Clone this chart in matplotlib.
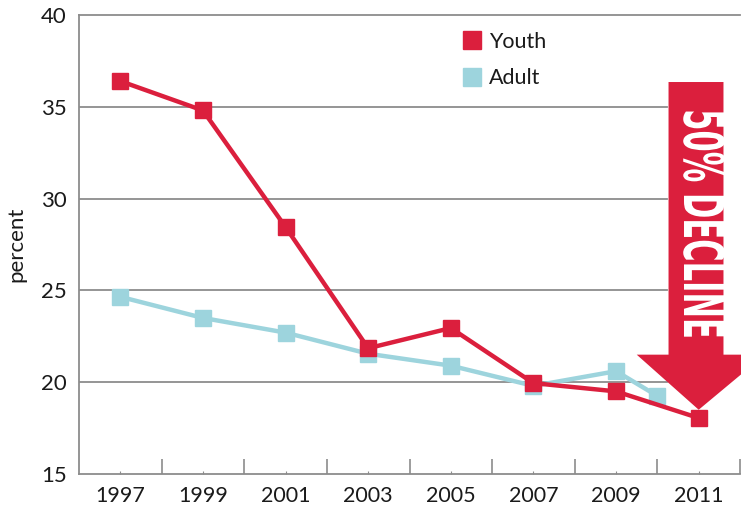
import matplotlib
matplotlib.use("Agg")
import matplotlib.pyplot as plt
from matplotlib.lines import Line2D
from matplotlib.patches import Polygon
from matplotlib.patheffects import AbstractPathEffect
from matplotlib.transforms import Affine2D

years = [1997, 1999, 2001, 2003, 2005, 2007, 2009, 2011]
youth = [36.4, 34.8, 28.45, 21.85, 22.95, 19.95, 19.5, 18.05]
adult_years = [1997, 1999, 2001, 2003, 2005, 2007, 2009, 2010]
adult = [24.65, 23.5, 22.7, 21.55, 20.9, 19.8, 20.6, 19.25]
yticks = [15, 20, 25, 30, 35, 40]
xtick_labels = [str(y) for y in years]

RED = "#db1f3d"
BLUE = "#9dd4dd"
GRAY = "#8c8c8c"
TXT = "#1a1a1a"

plt.rcParams['font.family'] = ['Lato', 'DejaVu Sans']

W, H = 741, 505
fig = plt.figure(figsize=(W / 100, H / 100), dpi=100)
ax = fig.add_axes([79 / W, 1 - 474 / H, (740 - 79) / W, (474 - 15) / H])

ax.set_xlim(1996, 2012)
ax.set_ylim(15, 40)

for y in [20, 25, 30, 35]:
    ax.axhline(y, xmin=0, xmax=0.889, color=GRAY, lw=1.3, zorder=1)

for s in ['right']:
    ax.spines[s].set_visible(False)
for s in ['left', 'bottom', 'top']:
    ax.spines[s].set_color(GRAY)
    ax.spines[s].set_linewidth(1.3)

ax.set_xticks(years)
ax.set_xticklabels(xtick_labels)
ax.set_xticks(list(range(1998, 2013, 2)), minor=True)
ax.tick_params(axis='x', which='major', direction='in', length=2, color=GRAY,
               labelsize=15.5, labelcolor=TXT, pad=9)
ax.tick_params(axis='x', which='minor', direction='in', length=11, color=GRAY, width=1.2)
ax.set_yticks(yticks)
ax.tick_params(axis='y', which='both', length=0, labelsize=16, labelcolor=TXT, pad=9)
ax.set_ylabel("percent", fontsize=16, color=TXT, labelpad=10)

# arrow annotation
arrow = Polygon([(2010.27, 36.35), (2011.6, 36.35), (2011.6, 21.5), (2012.6, 21.5),
                 (2011.0, 18.5), (2009.5, 21.5), (2010.27, 21.5)],
                closed=True, facecolor=RED, edgecolor='none', zorder=2, clip_on=False)
ax.add_patch(arrow)

ax.plot(years, youth, color=RED, lw=3.2, marker='s', markersize=11, zorder=4,
        clip_on=False)
ax.plot(adult_years, adult, color=BLUE, lw=3.2, marker='s', markersize=11, zorder=3,
        clip_on=False)


class Squeeze(AbstractPathEffect):
    def __init__(self, cx, cy, sx, sy):
        super().__init__()
        self.cx, self.cy, self.sx, self.sy = cx, cy, sx, sy

    def draw_path(self, renderer, gc, tpath, affine, rgbFace=None):
        t = affine + Affine2D().translate(-self.cx, -self.cy).scale(self.sx, self.sy).translate(self.cx, self.cy)
        renderer.draw_path(gc, tpath, t, rgbFace)


cx, cy = 699, H - 224
fig.text(cx / W, cy / H, "50% DECLINE", rotation=270, ha='center', va='center',
         fontsize=40, fontweight='bold', family='DejaVu Sans', color='white',
         path_effects=[Squeeze(cx, cy, 1.0, 0.55)], zorder=5)

handles = [Line2D([], [], color=RED, marker='s', linestyle='none', markersize=13),
           Line2D([], [], color=BLUE, marker='s', linestyle='none', markersize=13)]
leg = ax.legend(handles, ["Youth", "Adult"], loc='upper left',
                bbox_to_anchor=(459 / W, 1 - 32 / H), bbox_transform=fig.transFigure,
                frameon=False, fontsize=15.5, handletextpad=0.2, labelspacing=0.75,
                handlelength=1.2, borderaxespad=0, borderpad=0)
for t in leg.get_texts():
    t.set_color(TXT)

fig.savefig("out.png", dpi=100)
